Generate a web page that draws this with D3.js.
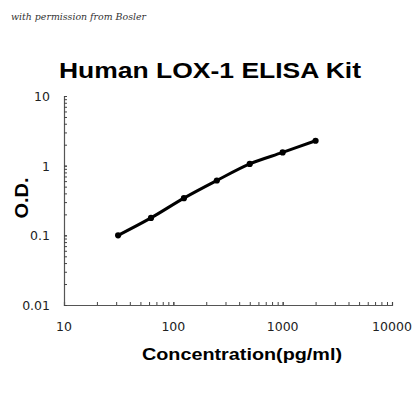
<!DOCTYPE html>
<html>
<head>
<meta charset="utf-8">
<script src="https://cdn.jsdelivr.net/npm/d3@7"></script>
<style>
  body { margin: 0; background: #fff; }
</style>
</head>
<body>
<div id="chart"></div>
<script>
// data
var concentration = [31.25, 62.5, 125, 250, 500, 1000, 2000];
var odValues = [0.100, 0.178, 0.342, 0.612, 1.06, 1.55, 2.28];
var xTickLabels = [10, 100, 1000, 10000];
var yTickLabels = [0.01, 0.1, 1, 10];

var width = 420, height = 420;
var margin = {top: 96, right: 28, bottom: 115, left: 64};

var svg = d3.select("#chart")
  .append("svg")
    .attr("width", width)
    .attr("height", height);

var x = d3.scaleLog().domain([10, 10000]).range([margin.left, width - margin.right]);
var y = d3.scaleLog().domain([0.01, 10]).range([height - margin.bottom, margin.top]);

// minor ticks for each decade
function minorTicks(lo, hi) {
  var out = [];
  for (var d = lo; d < hi; d *= 10) {
    for (var k = 1; k <= 10; k++) out.push(d * k);
  }
  return out;
}

// watermark
svg.append("text")
  .attr("x", 11)
  .attr("y", 20)
  .attr("font-family", "'DejaVu Serif', serif")
  .attr("font-style", "italic")
  .attr("font-size", 10)
  .attr("textLength", 135)
  .attr("lengthAdjust", "spacingAndGlyphs")
  .attr("fill", "#333")
  .text("with permission from Bosler");

// title
svg.append("text")
  .attr("x", 210)
  .attr("y", 78)
  .attr("text-anchor", "middle")
  .attr("font-family", "'Liberation Sans', Arial, sans-serif")
  .attr("font-weight", "bold")
  .attr("font-size", 22.5)
  .attr("textLength", 302)
  .attr("lengthAdjust", "spacingAndGlyphs")
  .attr("fill", "#000")
  .text("Human LOX-1 ELISA Kit");

// x axis
var xAxis = d3.axisTop(x)
  .tickValues(minorTicks(10, 10000))
  .tickSize(3)
  .tickFormat("");
var gx = svg.append("g")
  .attr("transform", "translate(0," + y(0.01) + ")")
  .call(xAxis);
gx.select(".domain").attr("stroke", "#555").attr("stroke-width", 1.2);
gx.selectAll(".tick line").attr("stroke", "#444");

svg.append("g")
  .selectAll("text")
  .data(xTickLabels)
  .enter()
  .append("text")
    .attr("x", function(d) { return x(d); })
    .attr("y", y(0.01) + 26)
    .attr("text-anchor", "middle")
    .attr("font-family", "'DejaVu Sans', Verdana, sans-serif")
    .attr("font-size", 12.5)
    .attr("fill", "#222")
    .text(function(d) { return d; });

// y axis
var yAxis = d3.axisRight(y)
  .tickValues(minorTicks(0.01, 10))
  .tickSize(3)
  .tickFormat("");
var gy = svg.append("g")
  .attr("transform", "translate(" + x(10) + ",0)")
  .call(yAxis);
gy.select(".domain").attr("stroke", "#555").attr("stroke-width", 1.2);
gy.selectAll(".tick line").attr("stroke", "#444");

svg.append("g")
  .selectAll("text")
  .data(yTickLabels)
  .enter()
  .append("text")
    .attr("x", x(10) - 14)
    .attr("y", function(d) { return y(d) + 5; })
    .attr("text-anchor", "end")
    .attr("font-family", "'DejaVu Sans', Verdana, sans-serif")
    .attr("font-size", 12.5)
    .attr("fill", "#222")
    .text(function(d) { return d; });

// axis titles
svg.append("text")
  .attr("x", 242)
  .attr("y", 360)
  .attr("text-anchor", "middle")
  .attr("font-family", "'Liberation Sans', Arial, sans-serif")
  .attr("font-weight", "bold")
  .attr("font-size", 17)
  .attr("textLength", 200)
  .attr("lengthAdjust", "spacingAndGlyphs")
  .attr("fill", "#000")
  .text("Concentration(pg/ml)");

svg.append("text")
  .attr("transform", "translate(28,198) rotate(-90)")
  .attr("text-anchor", "middle")
  .attr("font-family", "'Liberation Sans', Arial, sans-serif")
  .attr("font-weight", "bold")
  .attr("font-size", 19)
  .attr("textLength", 41)
  .attr("lengthAdjust", "spacingAndGlyphs")
  .attr("fill", "#000")
  .text("O.D.");

// curve
var points = concentration.map(function(c, i) { return {x: c, y: odValues[i]}; });

svg.append("path")
  .datum(points)
  .attr("fill", "none")
  .attr("stroke", "#000")
  .attr("stroke-width", 3)
  .attr("stroke-linecap", "round")
  .attr("d", d3.line()
    .x(function(d) { return x(d.x); })
    .y(function(d) { return y(d.y); })
    .curve(d3.curveCatmullRom));

svg.append("g")
  .selectAll("circle")
  .data(points)
  .enter()
  .append("circle")
    .attr("cx", function(d) { return x(d.x); })
    .attr("cy", function(d) { return y(d.y); })
    .attr("r", 3.1)
    .attr("fill", "#000");
</script>
</body>
</html>
